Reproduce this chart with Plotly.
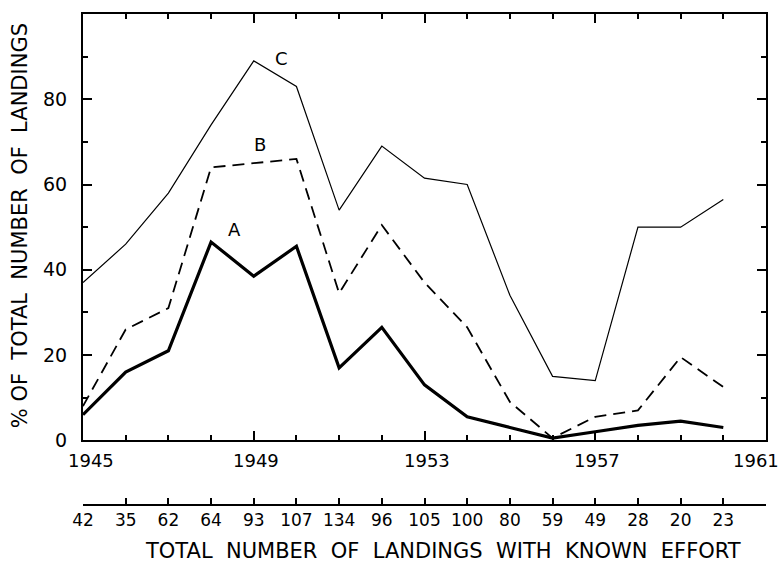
import plotly.graph_objects as go

# Landing years and percentage series
years = list(range(1945, 1961))
curve_c = [37, 46, 58, 74, 89, 83, 54, 69, 61.5, 60, 34, 15, 14, 50, 50, 56.5]
curve_b = [8, 26, 31, 64, 65, 66, 34.5, 50.5, 37, 26.5, 9, 0.5, 5.5, 7, 19.5, 12.5]
curve_a = [6, 16, 21, 46.5, 38.5, 45.5, 17, 26.5, 13, 5.5, 3, 0.5, 2, 3.5, 4.5, 3]

# Total number of landings with known effort, per year
landings = [42, 35, 62, 64, 93, 107, 134, 96, 105, 100, 80, 59, 49, 28, 20, 23]

year_labels = [1945, 1949, 1953, 1957, 1961]
y_tick_vals = [0, 20, 40, 60, 80]

FONT = "DejaVu Sans"
INK = "black"

fig = go.Figure()

fig.add_trace(go.Scatter(x=years, y=curve_c, mode="lines",
                         line=dict(color=INK, width=1.2), hoverinfo="skip"))
fig.add_trace(go.Scatter(x=years, y=curve_b, mode="lines",
                         line=dict(color=INK, width=1.8, dash="12px,7px"), hoverinfo="skip"))
fig.add_trace(go.Scatter(x=years, y=curve_a, mode="lines",
                         line=dict(color=INK, width=3.2), hoverinfo="skip"))

# Carrier trace for the secondary (landings count) axis
fig.add_trace(go.Scatter(x=years, y=[0] * len(years), xaxis="x2", mode="markers",
                         marker=dict(opacity=0), hoverinfo="skip"))

plot_bottom_frac = (505 - 440) / 493

fig.update_layout(
    width=780, height=565,
    margin=dict(l=83, r=13, t=12, b=60),
    paper_bgcolor="white", plot_bgcolor="white",
    showlegend=False,
    font=dict(family=FONT, color=INK),
    xaxis=dict(
        range=[1945, 1961], showgrid=False, zeroline=False,
        showline=True, linecolor=INK, linewidth=2.2, mirror="ticks",
        ticks="inside", tickvals=year_labels, ticklen=9, tickwidth=1.5, tickcolor=INK,
        showticklabels=False,
        minor=dict(dtick=1, ticks="inside", ticklen=5, tickwidth=1.5, tickcolor=INK),
    ),
    yaxis=dict(
        range=[0, 100], domain=[plot_bottom_frac, 1], showgrid=False, zeroline=False,
        showline=True, linecolor=INK, linewidth=2.2, mirror="ticks",
        ticks="inside", tickvals=y_tick_vals, ticklen=9, tickwidth=1.5, tickcolor=INK,
        tickfont=dict(size=19, family=FONT, color=INK), ticklabelstandoff=10,
        minor=dict(dtick=10, ticks="inside", ticklen=5, tickwidth=1.5, tickcolor=INK),
    ),
    xaxis2=dict(
        range=[1945, 1961], overlaying="x", anchor="free", position=0, side="bottom",
        showgrid=False, zeroline=False, showline=True, linecolor=INK, linewidth=1.5,
        ticks="inside", tickvals=years, ticktext=[str(v) for v in landings],
        ticklen=6, tickwidth=1.5, tickcolor=INK,
        tickfont=dict(size=17, family=FONT, color=INK),
    ),
)

annotations = []
for yr in year_labels:
    annotations.append(dict(
        x=yr, y=0, xref="x", yref="y", yshift=-20,
        xshift=8 if yr == 1945 else (-10 if yr == 1961 else 2),
        text=str(yr), showarrow=False, xanchor="center", yanchor="middle",
        font=dict(size=18, family=FONT, color=INK)))

for label, lx, ly in [("C", 1949.65, 89.5), ("B", 1949.14, 69.5), ("A", 1948.56, 49.5)]:
    annotations.append(dict(x=lx, y=ly, xref="x", yref="y", text=label, showarrow=False,
                            font=dict(size=18, family=FONT, color=INK)))

annotations.append(dict(
    x=(444 - 83) / 684, y=0, xref="paper", yref="paper", yshift=-46,
    text="TOTAL\u00a0\u00a0NUMBER\u00a0\u00a0OF\u00a0\u00a0LANDINGS\u00a0\u00a0WITH\u00a0\u00a0KNOWN\u00a0\u00a0EFFORT",
    showarrow=False, xanchor="center", yanchor="middle",
    font=dict(size=21, family=FONT, color=INK)))

annotations.append(dict(
    x=(20 - 83) / 684, y=(505 - 225) / 493, xref="paper", yref="paper",
    text="%\u00a0OF\u00a0\u00a0TOTAL\u00a0\u00a0NUMBER\u00a0\u00a0OF\u00a0\u00a0LANDINGS",
    textangle=-90, showarrow=False, xanchor="center", yanchor="middle",
    font=dict(size=21, family=FONT, color=INK)))

fig.update_layout(annotations=annotations)

fig.write_html("out.html")
